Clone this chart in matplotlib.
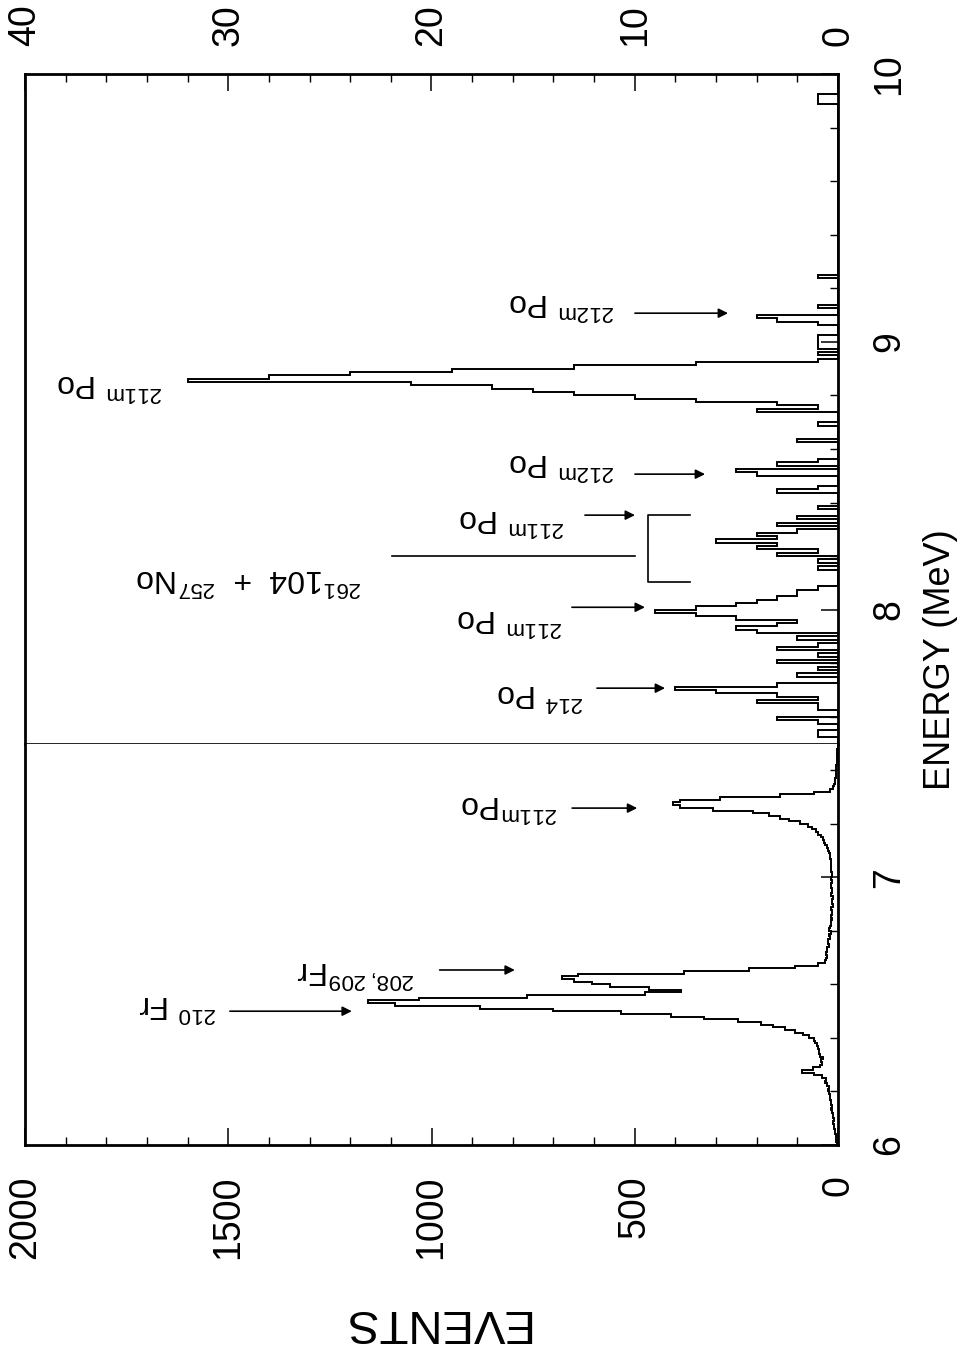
import numpy as np
import matplotlib
matplotlib.use("Agg")
import matplotlib.pyplot as plt
from matplotlib.ticker import MultipleLocator

# lower part of the spectrum: 6.0 - 7.5 MeV, 0.01 MeV channels (scale 0-2000)
lo_start = 6.0
lo_width = 0.01
lo_counts = [
    3, 4, 6, 5, 8, 7, 9, 10, 12, 11,
    13, 12, 15, 16, 14, 18, 17, 20, 19, 22,
    24, 21, 27, 32, 30, 40, 58, 88, 62, 45,
    40, 42, 38, 44, 47, 46, 50, 52, 56, 60,
    72, 86, 105, 130, 160, 190, 245, 330, 410, 535,
    700, 880, 1090, 1155, 1030, 765, 475, 385, 465, 560,
    605, 650, 680, 640, 380, 220, 105, 50, 33, 30,
    28, 30, 26, 27, 22, 24, 25, 20, 21, 18,
    22, 19, 18, 16, 15, 17, 14, 15, 16, 13,
    14, 15, 13, 16, 15, 14, 16, 18, 15, 17,
    15, 15, 16, 16, 17, 17, 18, 19, 20, 22,
    25, 28, 31, 34, 37, 42, 48, 55, 63, 75,
    93, 120, 143, 170, 210, 307, 389, 406, 389, 290,
    143, 60, 20, 12, 10, 8, 7, 6, 5, 5,
    4, 4, 3, 3, 3, 2, 2, 2, 1, 1,
]

# upper part: 7.5 - 10 MeV, 0.0125 MeV channels (scale 0-40), non-empty channels only
hi_start = 7.5
hi_stop = 10.0
hi_width = 0.0125
hi_energy = [
    7.5250, 7.5375, 7.5750, 7.5875, 7.6250, 7.6375, 7.6500, 7.6625, 7.6750, 7.6875,
    7.7000, 7.7125, 7.7500, 7.7750, 7.8000, 7.8250, 7.8500, 7.8625, 7.8875, 7.9125,
    7.9250, 7.9375, 7.9500, 7.9625, 7.9750, 7.9875, 8.0000, 8.0125, 8.0250, 8.0375,
    8.0500, 8.0625, 8.0750, 8.1500, 8.1750, 8.2000, 8.2125, 8.2250, 8.2375, 8.2500,
    8.2625, 8.2750, 8.2875, 8.3125, 8.3375, 8.3750, 8.4375, 8.4500, 8.5000, 8.5125,
    8.5375, 8.5500, 8.6250, 8.6875, 8.7375, 8.7500, 8.7625, 8.7750, 8.7875, 8.8000,
    8.8125, 8.8250, 8.8375, 8.8500, 8.8625, 8.8750, 8.8875, 8.9000, 8.9125, 8.9250,
    8.9500, 8.9750, 8.9875, 9.0000, 9.0125, 9.0625, 9.0750, 9.0875, 9.1250, 9.2375,
    9.8875, 9.9000, 9.9125,
]
hi_counts = [
    1, 1, 1, 3, 1, 1, 4, 1, 3, 6,
    8, 3, 2, 1, 3, 1, 3, 1, 2, 4,
    5, 3, 2, 5, 7, 9, 7, 5, 4, 3,
    2, 2, 1, 1, 1, 3, 1, 4, 3, 6,
    3, 4, 2, 3, 2, 1, 3, 1, 4, 5,
    3, 1, 2, 1, 4, 1, 3, 7, 10, 13,
    15, 17, 21, 32, 28, 24, 19, 13, 7, 1,
    1, 1, 1, 1, 1, 1, 3, 4, 1, 1,
    1, 1, 1,
]

lo_events_max = 2000
hi_events_max = 40

plt.rcParams["font.family"] = ["Liberation Sans", "DejaVu Sans"]
plt.rcParams["mathtext.default"] = "regular"

fig = plt.figure(figsize=(9.65, 13.51), dpi=100)

# pixel layout of the (sideways) frame
W, H = 965.0, 1351.0
x_left, x_right = 25.0, 838.0
y_top, y_mid, y_bot = 74.0, 743.6, 1145.0
ax_hi = fig.add_axes([x_left / W, 1 - y_mid / H, (x_right - x_left) / W, (y_mid - y_top) / H])
ax_lo = fig.add_axes([x_left / W, 1 - y_bot / H, (x_right - x_left) / W, (y_bot - y_mid) / H])

lo_edges = lo_start + lo_width * np.arange(len(lo_counts) + 1)
ax_lo.stairs(lo_counts, lo_edges, orientation="horizontal", color="black", lw=1.4)

n_hi = int(round((hi_stop - hi_start) / hi_width))
hi_full = np.zeros(n_hi)
idx = np.rint((np.array(hi_energy) - hi_start) / hi_width).astype(int)
hi_full[idx] = hi_counts
hi_edges = hi_start + hi_width * np.arange(n_hi + 1)
ax_hi.stairs(hi_full, hi_edges, orientation="horizontal", color="black", lw=1.4)

ax_hi.set_xlim(hi_events_max, 0)
ax_hi.set_ylim(hi_start, hi_stop)
ax_lo.set_xlim(lo_events_max, 0)
ax_lo.set_ylim(lo_start, hi_start)

tick_font = 27
for ax in (ax_hi, ax_lo):
    for side in ["left", "right", "top", "bottom"]:
        ax.spines[side].set_linewidth(2.0)
    ax.yaxis.tick_right()
    ax.yaxis.set_major_locator(MultipleLocator(1))
    ax.yaxis.set_minor_locator(MultipleLocator(0.2))
    ax.tick_params(axis="y", which="both", direction="in", left=False, right=True,
                   labelleft=False, labelright=True, labelrotation=90,
                   labelsize=tick_font, pad=24)
    ax.tick_params(axis="both", which="major", length=12, width=1.1)
    ax.tick_params(axis="both", which="minor", length=6, width=1.0)
    for t in ax.yaxis.get_major_ticks():
        t.label2.set_verticalalignment("center")

ax_hi.spines["bottom"].set_linewidth(1.2)
ax_lo.spines["top"].set_visible(False)

ax_hi.xaxis.set_major_locator(MultipleLocator(10))
ax_hi.xaxis.set_minor_locator(MultipleLocator(2))
ax_hi.tick_params(axis="x", which="both", direction="in", top=True, bottom=False,
                  labeltop=True, labelbottom=False, labelrotation=90,
                  labelsize=tick_font, pad=20)

ax_lo.xaxis.set_major_locator(MultipleLocator(500))
ax_lo.xaxis.set_minor_locator(MultipleLocator(100))
ax_lo.tick_params(axis="x", which="both", direction="in", top=False, bottom=True,
                  labeltop=False, labelbottom=True, labelrotation=90,
                  labelsize=tick_font, pad=22)

fig.text(940 / W, 1 - 660 / H, "ENERGY (MeV)", rotation=90, ha="center", va="center",
         fontsize=26)
fig.text(435 / W, 1 - 1322 / H, "EVENTS", rotation=180, ha="center", va="center",
         fontsize=34)

# peak labels (upside down, as in the printed figure)
arrow = dict(arrowstyle="-|>", color="black", lw=1.2, mutation_scale=14,
             shrinkA=0, shrinkB=0)
label_font = 23

lo_notes = [
    (r"$^{210}$ Fr", (1626, 6.530), (1496, 6.500), (1196, 6.500)),
    (r"$^{208,209}$Fr", (1186, 6.654), (980, 6.654), (795, 6.654)),
    (r"$^{211m}$Po", (807, 7.277), (654, 7.259), (494, 7.259)),
]
for text, pos, tail, head in lo_notes:
    ax_lo.text(pos[0], pos[1], text, rotation=180, ha="center", va="center",
               fontsize=label_font)
    ax_lo.annotate("", xy=head, xytext=tail, arrowprops=arrow)

hi_notes = [
    (r"$^{214}$ Po", (14.66, 7.690), (11.86, 7.707), (8.51, 7.707)),
    (r"$^{211m}$ Po", (16.14, 7.972), (13.09, 8.009), (9.50, 8.009)),
    (r"$^{211m}$ Po", (16.04, 8.342), (12.45, 8.353), (9.99, 8.353)),
    (r"$^{212m}$ Po", (13.58, 8.551), (9.99, 8.506), (6.54, 8.506)),
    (r"$^{212m}$ Po", (13.58, 9.150), (9.99, 9.107), (5.41, 9.107)),
]
for text, pos, tail, head in hi_notes:
    ax_hi.text(pos[0], pos[1], text, rotation=180, ha="center", va="center",
               fontsize=label_font)
    ax_hi.annotate("", xy=head, xytext=tail, arrowprops=arrow)

ax_hi.text(35.8, 8.848, r"$^{211m}$ Po", rotation=180, ha="center", va="center",
           fontsize=label_font)

# Rf + No group with its bracket
ax_hi.text(29.0, 8.121, r"$^{261}$104  +  $^{257}$No", rotation=180, ha="center",
           va="center", fontsize=label_font)
ax_hi.plot([21.94, 9.99], [8.20, 8.20], color="black", lw=1.2)
ax_hi.plot([7.28, 9.35, 9.35, 7.28], [8.353, 8.353, 8.103, 8.103], color="black", lw=1.2)

fig.savefig("out.png", dpi=100)
